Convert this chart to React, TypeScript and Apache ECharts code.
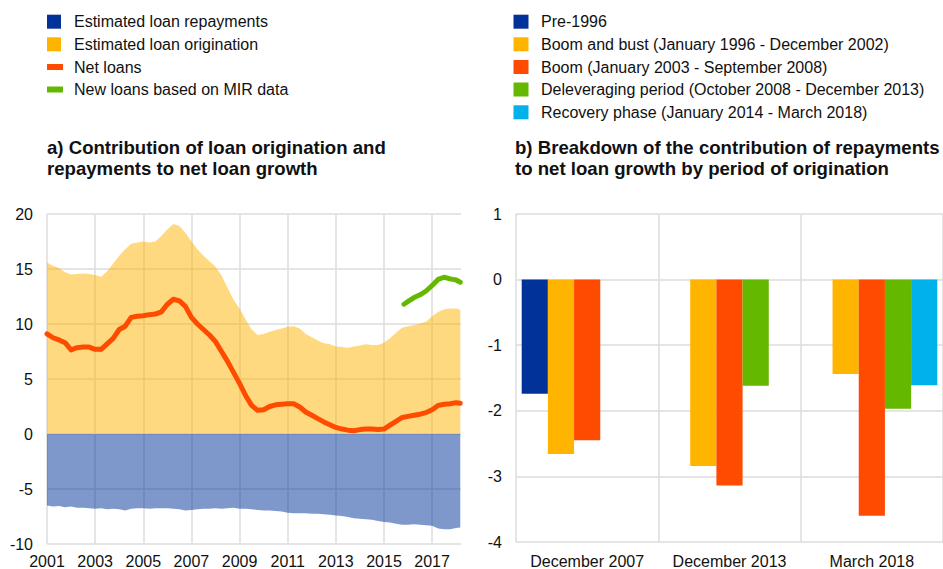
import React, { useEffect, useRef } from 'react';
import * as echarts from 'echarts';

const FONT = '"Liberation Sans", Arial, Helvetica, sans-serif';

// ---- Panel a) data (quarterly readings, percentage points) ----
const quarterDates: number[] = [
  2001.0, 2001.25, 2001.5, 2001.75, 2002.0, 2002.25, 2002.5, 2002.75,
  2003.0, 2003.25, 2003.5, 2003.75, 2004.0, 2004.25, 2004.5, 2004.75,
  2005.0, 2005.25, 2005.5, 2005.75, 2006.0, 2006.25, 2006.5, 2006.75,
  2007.0, 2007.25, 2007.5, 2007.75, 2008.0, 2008.25, 2008.5, 2008.75,
  2009.0, 2009.25, 2009.5, 2009.75, 2010.0, 2010.25, 2010.5, 2010.75,
  2011.0, 2011.25, 2011.5, 2011.75, 2012.0, 2012.25, 2012.5, 2012.75,
  2013.0, 2013.25, 2013.5, 2013.75, 2014.0, 2014.25, 2014.5, 2014.75,
  2015.0, 2015.25, 2015.5, 2015.75, 2016.0, 2016.25, 2016.5, 2016.75,
  2017.0, 2017.25, 2017.5, 2017.75, 2018.0, 2018.17,
];

const originationValues: number[] = [
  15.6, 15.3, 15.1, 14.7, 14.5, 14.55, 14.6, 14.55,
  14.45, 14.3, 14.8, 15.5, 16.2, 16.8, 17.3, 17.4,
  17.5, 17.4, 17.5, 18.0, 18.6, 19.1, 18.9, 18.3,
  17.5, 16.8, 16.2, 15.7, 15.2, 14.4, 13.3, 12.2,
  11.4, 10.4, 9.5, 9.0, 9.1, 9.3, 9.45, 9.6,
  9.75, 9.8, 9.6, 9.1, 8.8, 8.5, 8.25, 8.15,
  7.95, 7.9, 7.85, 7.95, 8.05, 8.15, 8.1, 8.1,
  8.3, 8.7, 9.2, 9.65, 9.8, 9.9, 10.05, 10.2,
  10.7, 11.1, 11.35, 11.4, 11.4, 11.3,
];

const repaymentValues: number[] = [
  -6.5, -6.6, -6.55, -6.65, -6.6, -6.7, -6.7, -6.75,
  -6.8, -6.75, -6.85, -6.8, -6.85, -6.95, -6.8, -6.75,
  -6.75, -6.8, -6.75, -6.75, -6.75, -6.8, -6.85, -6.95,
  -6.9, -6.85, -6.8, -6.8, -6.75, -6.8, -6.75, -6.7,
  -6.8, -6.8, -6.85, -6.9, -6.95, -6.95, -7.0, -7.05,
  -7.15, -7.2, -7.2, -7.2, -7.25, -7.25, -7.3, -7.35,
  -7.4, -7.45, -7.55, -7.65, -7.7, -7.75, -7.8, -7.9,
  -8.0, -8.05, -8.15, -8.25, -8.25, -8.2, -8.25, -8.3,
  -8.35, -8.6, -8.65, -8.65, -8.55, -8.5,
];

const netLoanValues: number[] = [
  9.1, 8.75, 8.55, 8.3, 7.65, 7.85, 7.9, 7.9,
  7.7, 7.7, 8.2, 8.7, 9.5, 9.8, 10.6, 10.7,
  10.75, 10.85, 10.9, 11.1, 11.8, 12.25, 12.1, 11.6,
  10.6, 10.0, 9.5, 9.0, 8.4, 7.5, 6.6, 5.6,
  4.6, 3.5, 2.6, 2.15, 2.2, 2.5, 2.65, 2.7,
  2.75, 2.75, 2.45, 2.0, 1.7, 1.4, 1.1, 0.85,
  0.6, 0.45, 0.35, 0.3, 0.4, 0.45, 0.45, 0.4,
  0.45, 0.8, 1.15, 1.5, 1.6, 1.7, 1.8, 1.95,
  2.2, 2.6, 2.7, 2.75, 2.85, 2.8,
];

const mirDates: number[] = [2015.83, 2016.0, 2016.25, 2016.5, 2016.75, 2017.0, 2017.25, 2017.5, 2017.75, 2018.0, 2018.17];
const mirValues: number[] = [11.8, 12.05, 12.4, 12.65, 13.0, 13.5, 14.05, 14.25, 14.1, 14.0, 13.8];

const leftSeriesNames = [
  'Estimated loan repayments',
  'Estimated loan origination',
  'Net loans',
  'New loans based on MIR data',
];

// ---- Panel b) data ----
const barCategories = ['December 2007', 'December 2013', 'March 2018'];
const periodNames = [
  'Pre-1996',
  'Boom and bust (January 1996 - December 2002)',
  'Boom (January 2003 - September 2008)',
  'Deleveraging period (October 2008 - December 2013)',
  'Recovery phase (January 2014 - March 2018)',
];
const pre1996Values = [-1.74, null, null];
const boomBustValues = [-2.66, -2.84, -1.44];
const boomValues = [-2.45, -3.14, -3.6];
const deleveragingValues = [null, -1.62, -1.97];
const recoveryValues = [null, null, -1.61];

const titleA = 'a) Contribution of loan origination and\nrepayments to net loan growth';
const titleB = 'b) Breakdown of the contribution of repayments\nto net loan growth by period of origination';

const BLUE = '#003299';
const YELLOW = '#FFB400';
const ORANGE = '#FF4B00';
const GREEN = '#65B800';
const CYAN = '#00B1EA';
const GRID = '#dcdcdc';
const TEXT = '#111';

const pairs = (xs: number[], ys: number[]) => xs.map((x, i) => [x, ys[i]]);

export default function App() {
  const ref = useRef<HTMLDivElement>(null);

  useEffect(() => {
    if (!ref.current) return;
    const chart = echarts.init(ref.current, null, { renderer: 'svg' });

    const leftColors = [BLUE, YELLOW, ORANGE, GREEN];
    const leftKinds = ['square', 'square', 'line', 'line'];
    const leftRows = [21.7, 44.3, 67, 89.5];
    const rightColors = [BLUE, YELLOW, ORANGE, GREEN, CYAN];
    const rightRows = [21.7, 44.3, 67, 89.5, 112.3];

    const graphics: any[] = [];
    leftSeriesNames.forEach((name, i) => {
      const cy = leftRows[i];
      graphics.push(
        leftKinds[i] === 'square'
          ? { type: 'rect', shape: { x: 47, y: cy - 7, width: 14, height: 14 }, style: { fill: leftColors[i] } }
          : { type: 'rect', shape: { x: 47, y: cy - 3, width: 16, height: 6 }, style: { fill: leftColors[i] } }
      );
      graphics.push({
        type: 'text', x: 74, y: cy,
        style: { text: name, fill: TEXT, font: `16px ${FONT}`, verticalAlign: 'middle', align: 'left' },
      });
    });
    periodNames.forEach((name, i) => {
      const cy = rightRows[i];
      graphics.push({ type: 'rect', shape: { x: 513.5, y: cy - 7, width: 15, height: 14 }, style: { fill: rightColors[i] } });
      graphics.push({
        type: 'text', x: 541, y: cy,
        style: { text: name, fill: TEXT, font: `16px ${FONT}`, verticalAlign: 'middle', align: 'left' },
      });
    });

    const axisLabelStyle = { color: TEXT, fontSize: 16, fontFamily: FONT };
    const titleStyle = { fontSize: 18.6, fontWeight: 'bold', lineHeight: 21, color: TEXT, fontFamily: FONT };

    chart.setOption({
      animation: false,
      textStyle: { fontFamily: FONT },
      title: [
        { text: titleA, left: 47, top: 137, padding: 0, textStyle: titleStyle },
        { text: titleB, left: 515, top: 137, padding: 0, textStyle: titleStyle },
      ],
      graphic: graphics,
      grid: [
        { left: 47, top: 214, right: 482, bottom: 24, containLabel: false },
        { left: 516, top: 214, right: -4, bottom: 24, containLabel: false },
      ],
      xAxis: [
        {
          type: 'value', gridIndex: 0, min: 2001, max: 2018.2, interval: 2,
          axisLine: { show: false }, axisTick: { show: false },
          splitLine: { show: true, showMaxLine: false, lineStyle: { color: GRID, width: 1.5 } },
          axisLabel: {
            ...axisLabelStyle, margin: 9, showMaxLabel: false,
            formatter: (v: number) => (Number.isInteger(v) ? String(v) : ''),
          },
        },
        {
          type: 'category', gridIndex: 1, data: barCategories, boundaryGap: true,
          axisLine: { show: false }, axisTick: { show: false },
          splitLine: { show: true, interval: 0, lineStyle: { color: GRID, width: 1.5 } },
          axisLabel: { ...axisLabelStyle, margin: 11, interval: 0 },
        },
      ],
      yAxis: [
        {
          type: 'value', gridIndex: 0, min: -10, max: 20, interval: 5,
          axisLine: { show: false }, axisTick: { show: false },
          splitLine: { show: true, lineStyle: { color: GRID, width: 1.5 } },
          axisLabel: { ...axisLabelStyle, margin: 14 },
        },
        {
          type: 'value', gridIndex: 1, min: -4, max: 1, interval: 1,
          axisLine: { show: false }, axisTick: { show: false },
          splitLine: { show: true, lineStyle: { color: GRID, width: 1.5 } },
          axisLabel: { ...axisLabelStyle, margin: 14 },
        },
      ],
      series: [
        {
          name: leftSeriesNames[1], type: 'line', xAxisIndex: 0, yAxisIndex: 0,
          data: pairs(quarterDates, originationValues), showSymbol: false,
          lineStyle: { width: 0 }, areaStyle: { color: 'rgba(255,180,0,0.5)', opacity: 1 },
          z: 1,
        },
        {
          name: leftSeriesNames[0], type: 'line', xAxisIndex: 0, yAxisIndex: 0,
          data: pairs(quarterDates, repaymentValues), showSymbol: false,
          lineStyle: { width: 0 }, areaStyle: { color: 'rgba(0,50,153,0.5)', opacity: 1 },
          z: 1,
        },
        {
          name: leftSeriesNames[2], type: 'line', xAxisIndex: 0, yAxisIndex: 0,
          data: pairs(quarterDates, netLoanValues), showSymbol: false,
          lineStyle: { width: 5, color: ORANGE, cap: 'round', join: 'round' },
          z: 3,
        },
        {
          name: leftSeriesNames[3], type: 'line', xAxisIndex: 0, yAxisIndex: 0,
          data: pairs(mirDates, mirValues), showSymbol: false,
          lineStyle: { width: 5, color: GREEN, cap: 'round', join: 'round' },
          z: 3,
        },
        {
          name: periodNames[0], type: 'bar', xAxisIndex: 1, yAxisIndex: 1,
          data: pre1996Values, itemStyle: { color: BLUE }, barGap: '0%', barCategoryGap: '8%',
        },
        {
          name: periodNames[1], type: 'bar', xAxisIndex: 1, yAxisIndex: 1,
          data: boomBustValues, itemStyle: { color: YELLOW }, barGap: '0%', barCategoryGap: '8%',
        },
        {
          name: periodNames[2], type: 'bar', xAxisIndex: 1, yAxisIndex: 1,
          data: boomValues, itemStyle: { color: ORANGE }, barGap: '0%', barCategoryGap: '8%',
        },
        {
          name: periodNames[3], type: 'bar', xAxisIndex: 1, yAxisIndex: 1,
          data: deleveragingValues, itemStyle: { color: GREEN }, barGap: '0%', barCategoryGap: '8%',
        },
        {
          name: periodNames[4], type: 'bar', xAxisIndex: 1, yAxisIndex: 1,
          data: recoveryValues, itemStyle: { color: CYAN }, barGap: '0%', barCategoryGap: '8%',
        },
      ],
    });

    return () => chart.dispose();
  }, []);

  return (
    <div
      ref={ref}
      style={{ position: 'absolute', left: 0, top: 0, width: 943, height: 569, background: '#fff' }}
    />
  );
}
